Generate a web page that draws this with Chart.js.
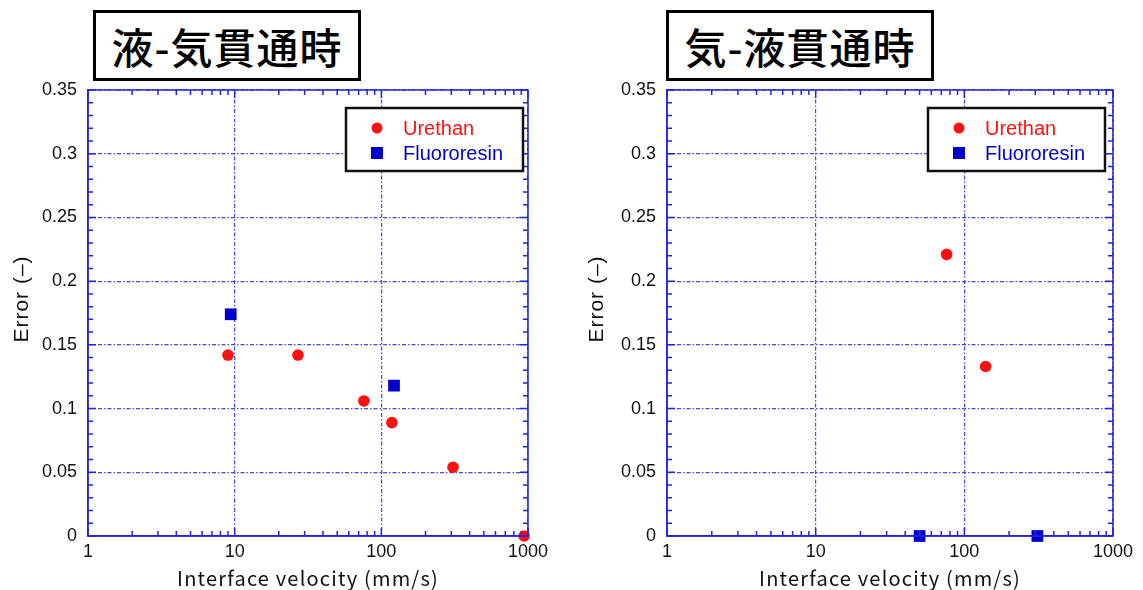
<!DOCTYPE html>
<html>
<head>
<meta charset="utf-8">
<script src="https://cdn.jsdelivr.net/npm/chart.js@4.4.1/dist/chart.umd.min.js"></script>
<style>
  html, body { margin: 0; padding: 0; background: #fff; }
  body { width: 1143px; height: 590px; position: relative; overflow: hidden; }
  .panel { position: absolute; top: 0; height: 590px; }
  .title-box {
    position: absolute; top: 10px; height: 65px; width: 262px;
    border: 3px solid #000; background: #fff;
    font-family: "Noto Sans CJK JP", sans-serif; font-size: 42px; font-weight: 500;
    letter-spacing: 1px;
    line-height: 65px; text-align: center; color: #000; z-index: 2;
  }
</style>
</head>
<body>
<div class="panel" style="left:0;width:571px"><canvas id="chartLeft" width="571" height="590"></canvas></div>
<div class="panel" style="left:571px;width:572px"><canvas id="chartRight" width="572" height="590"></canvas></div>
<div class="title-box" id="titleLeft" style="left:93px"></div>
<div class="title-box" id="titleRight" style="left:666px"></div>
<script>
// panel titles
const panelTitles = ['液-気貫通時', '気-液貫通時'];

// axis ticks
const velocityTicks = [1, 10, 100, 1000];
const errorTicks = [0, 0.05, 0.1, 0.15, 0.2, 0.25, 0.3, 0.35];

// liquid -> gas
const leftUrethanVelocity = [9, 27, 76, 118, 308, 940];
const leftUrethanError = [0.142, 0.142, 0.106, 0.089, 0.054, 0];
const leftFluoroVelocity = [9.4, 122];
const leftFluoroError = [0.174, 0.118];

// gas -> liquid
const rightUrethanVelocity = [76, 139];
const rightUrethanError = [0.221, 0.133];
const rightFluoroVelocity = [50, 310];
const rightFluoroError = [0, 0];

const seriesNames = ['Urethan', 'Fluororesin'];

const AXIS_BLUE = '#2424dc';
const RED = '#ff1010';
const BLUE = '#0000cc';
const SANS = '"Liberation Sans", Arial, sans-serif';

function toPoints(xs, ys) {
    return xs.map((x, i) => ({ x: x, y: ys[i] }));
}

// frame on all four sides, inward ticks, legend box and axis titles
const framePlugin = {
    id: 'frame',
    afterDraw(chart, args, opts) {
        const ctx = chart.ctx;
        const area = chart.chartArea;
        const xs = chart.scales.x;
        const ys = chart.scales.y;
        ctx.save();
        ctx.strokeStyle = AXIS_BLUE;
        ctx.lineWidth = 1.5;

        // minor + major ticks along x (log decades)
        ctx.beginPath();
        for (let d = 1; d < 1000; d *= 10) {
            for (let m = 1; m <= 10; m++) {
                const px = xs.getPixelForValue(d * m);
                const len = (m === 1 || m === 10) ? 8 : 5;
                ctx.moveTo(px, area.bottom);
                ctx.lineTo(px, area.bottom - len);
                ctx.moveTo(px, area.top);
                ctx.lineTo(px, area.top + len);
            }
        }
        // ticks along y every 0.01
        for (let i = 0; i <= 35; i++) {
            const py = ys.getPixelForValue(i / 100);
            const len = i % 5 === 0 ? 8 : 5;
            ctx.moveTo(area.left, py);
            ctx.lineTo(area.left + len, py);
            ctx.moveTo(area.right, py);
            ctx.lineTo(area.right - len, py);
        }
        ctx.stroke();
        ctx.strokeRect(area.left, area.top, area.right - area.left, area.bottom - area.top);

        // legend
        const bw = 177, bh = 63;
        const bx = area.right - opts.legendInset - bw;
        const by = area.top + 18;
        ctx.fillStyle = '#fff';
        ctx.fillRect(bx, by, bw, bh);
        ctx.strokeStyle = '#111';
        ctx.lineWidth = 2.5;
        ctx.strokeRect(bx, by, bw, bh);
        ctx.font = '20px ' + SANS;
        ctx.textBaseline = 'middle';
        ctx.textAlign = 'left';
        chart.data.datasets.forEach((ds, i) => {
            const cy = by + 20 + i * 25;
            const cx = bx + 31;
            ctx.fillStyle = ds.backgroundColor;
            if (ds.pointStyle === 'rect') {
                ctx.fillRect(cx - 6, cy - 6, 12, 12);
            } else {
                ctx.beginPath();
                ctx.arc(cx, cy, 5.5, 0, Math.PI * 2);
                ctx.fill();
            }
            ctx.fillText(ds.label, bx + 57, cy + 1);
        });

        // axis titles
        ctx.fillStyle = '#111';
        ctx.textAlign = 'center';
        ctx.font = '20px "Noto Sans CJK JP", sans-serif';
        ctx.letterSpacing = '1.2px';
        ctx.fillText('Interface velocity (mm/s)', (area.left + area.right) / 2, 578);
        ctx.translate(opts.yTitleX, 299);
        ctx.rotate(-Math.PI / 2);
        ctx.font = '21px ' + SANS;
        ctx.letterSpacing = '1px';
        ctx.fillText('Error (\u2013)', 0, 0);
        ctx.restore();
    }
};

function makeChart(canvasId, urethan, fluoro, layout) {
    const ctx = document.getElementById(canvasId).getContext('2d');
    return new Chart(ctx, {
        type: 'scatter',
        data: {
            datasets: [{
                label: seriesNames[0],
                data: urethan,
                pointStyle: 'circle',
                pointRadius: 5.8,
                pointHoverRadius: 5.8,
                backgroundColor: RED,
                borderColor: RED,
                borderWidth: 0,
                clip: false
            }, {
                label: seriesNames[1],
                data: fluoro,
                pointStyle: 'rect',
                pointRadius: 8.3,
                pointHoverRadius: 8.3,
                backgroundColor: BLUE,
                borderColor: BLUE,
                borderWidth: 0,
                clip: false
            }]
        },
        options: {
            responsive: false,
            animation: false,
            events: [],
            layout: { padding: { top: 90, right: layout.padRight, left: 0, bottom: 0 } },
            plugins: {
                legend: { display: false },
                tooltip: { enabled: false },
                frame: { legendInset: layout.legendInset, yTitleX: layout.yTitleX }
            },
            scales: {
                x: {
                    type: 'logarithmic',
                    min: 1,
                    max: 1000,
                    afterBuildTicks: (scale) => {
                        scale.ticks = velocityTicks.map(v => ({ value: v, major: true }));
                    },
                    afterFit: (scale) => { scale.height = 54; },
                    ticks: {
                        autoSkip: false,
                        maxRotation: 0,
                        padding: 5,
                        color: '#111',
                        font: { family: SANS, size: 18 },
                        callback: (v) => String(v)
                    },
                    grid: {
                        drawTicks: false,
                        color: 'rgba(40,40,225,0.85)',
                        lineWidth: 1.2
                    },
                    border: { display: true, color: AXIS_BLUE, width: 1.5, dash: [4, 2, 1.5, 2] }
                },
                y: {
                    min: 0,
                    max: 0.35,
                    afterBuildTicks: (scale) => {
                        scale.ticks = errorTicks.map(v => ({ value: v }));
                    },
                    afterFit: (scale) => { scale.width = layout.yWidth; },
                    ticks: {
                        padding: 11,
                        color: '#111',
                        font: { family: SANS, size: 18 },
                        callback: (v) => String(+v.toFixed(2))
                    },
                    grid: {
                        drawTicks: false,
                        color: 'rgba(40,40,225,0.85)',
                        lineWidth: 1.2
                    },
                    border: { display: true, color: AXIS_BLUE, width: 1.5, dash: [4, 2, 1.5, 2] }
                }
            }
        },
        plugins: [framePlugin]
    });
}

document.getElementById('titleLeft').textContent = panelTitles[0];
document.getElementById('titleRight').textContent = panelTitles[1];

// canvas text needs the fonts ready before the first draw
Promise.all([
    document.fonts.load('18px "Liberation Sans"'),
    document.fonts.load('20px "Noto Sans CJK JP"', 'Interface')
]).catch(() => {}).then(() => {
    makeChart('chartLeft',
        toPoints(leftUrethanVelocity, leftUrethanError),
        toPoints(leftFluoroVelocity, leftFluoroError),
        { yWidth: 88, padRight: 43, legendInset: 5, yTitleX: 22 });

    makeChart('chartRight',
        toPoints(rightUrethanVelocity, rightUrethanError),
        toPoints(rightFluoroVelocity, rightFluoroError),
        { yWidth: 96, padRight: 30, legendInset: 8, yTitleX: 26 });
});
</script>
</body>
</html>
